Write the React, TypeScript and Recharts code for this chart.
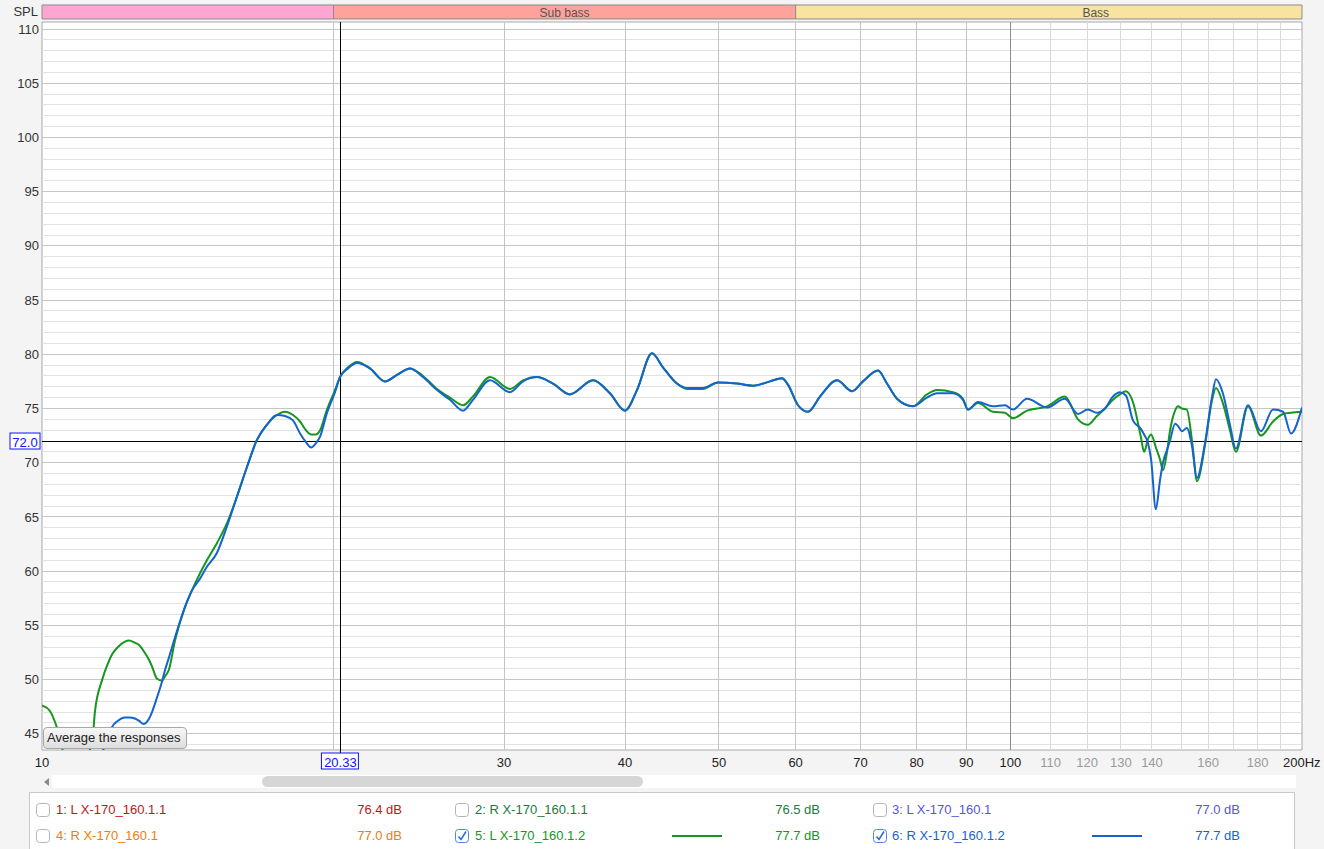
import React from "react"
import { LineChart, Line, XAxis, YAxis, ReferenceLine, ReferenceArea } from "recharts"

const FONT = '"Liberation Sans", Arial, Helvetica, sans-serif'

// frequency points (Hz)
const freqs = [
  10.0, 10.19, 10.36, 10.56, 10.95, 11.26, 11.34, 11.53, 11.7, 11.81,
  11.98, 12.18, 12.3, 12.47, 12.59, 12.74, 12.9, 12.99, 13.14, 13.3,
  13.4, 13.52, 13.72, 14.05, 14.28, 14.56, 14.8, 15.16, 15.52, 15.9,
  16.28, 16.67, 17.07, 17.48, 17.82, 18.16, 18.47, 18.73, 18.96, 19.18,
  19.37, 19.69, 20.07, 20.31, 20.7, 21.15, 21.81, 22.6, 23.26, 23.99,
  24.74, 25.58, 26.38, 27.21, 27.86, 29.01, 30.42, 31.38, 32.44, 33.7,
  35.09, 37.06, 38.59, 39.99, 41.15, 42.64, 43.77, 45.25, 46.34, 48.14,
  49.89, 52.19, 54.22, 56.45, 58.09, 58.92, 60.34, 61.79, 63.58, 66.2,
  68.6, 70.42, 72.98, 74.56, 76.35, 79.31, 81.99, 83.97, 87.22, 89.32,
  90.39, 92.56, 95.92, 98.7, 100.6, 104.0, 109.1, 113.8, 117.4, 120.2,
  122.8, 125.2, 127.6, 129.7, 131.6, 133.8, 136.4, 137.4, 138.7, 139.7,
  141.3, 142.7, 143.7, 145.1, 146.1, 147.9, 148.9, 150.3, 152.1, 154.0,
  155.8, 158.8, 161.5, 163.0, 165.7, 168.5, 170.9, 175.9, 181.4, 186.7,
  191.2, 194.8, 200.0,
]

// 5: L X-170_160.1.2 (dB SPL)
const leftDb = [
  47.6, 47.1, 45.6, 43.0, 42.5, 44.0, 47.0, 49.9, 51.5, 52.3,
  53.0, 53.5, 53.6, 53.4, 53.2, 52.6, 51.8, 51.2, 50.1, 49.9,
  50.3, 50.9, 53.6, 56.7, 58.2, 59.8, 61.0, 62.6, 64.4, 66.9,
  69.6, 72.1, 73.5, 74.4, 74.7, 74.4, 73.8, 73.0, 72.6, 72.6,
  73.0, 74.9, 76.7, 77.9, 78.8, 79.3, 78.7, 77.5, 78.1, 78.7,
  78.0, 76.8, 76.0, 75.3, 76.1, 77.9, 76.8, 77.6, 77.9, 77.3,
  76.3, 77.6, 76.4, 74.8, 76.7, 80.1, 78.8, 77.3, 76.8, 76.8,
  77.4, 77.3, 77.1, 77.5, 77.8, 77.2, 75.3, 74.7, 76.1, 77.6,
  76.6, 77.5, 78.5, 77.3, 75.9, 75.2, 76.3, 76.7, 76.5, 75.9,
  74.9, 75.5, 74.7, 74.6, 74.1, 74.8, 75.2, 76.1, 74.0, 73.5,
  74.3, 75.0, 75.8, 76.3, 76.6, 75.6, 72.3, 71.0, 72.2, 72.6,
  71.4, 70.3, 69.3, 71.0, 72.9, 74.8, 75.2, 75.0, 74.9, 72.0,
  68.3, 71.6, 75.8, 76.9, 75.5, 73.0, 71.0, 75.2, 72.5, 73.8,
  74.5, 74.6, 74.7,
]

// 6: R X-170_160.1.2 (dB SPL)
const rightDb = [
  40.0, 40.2, 40.5, 41.0, 41.5, 42.0, 42.5, 43.3, 44.5, 45.6,
  46.2, 46.5, 46.5, 46.4, 46.2, 45.9, 46.4, 47.0, 48.3, 49.8,
  50.9, 52.0, 53.9, 56.7, 58.2, 59.3, 60.4, 61.7, 64.1, 66.9,
  69.6, 72.1, 73.5, 74.4, 74.3, 73.9, 72.7, 71.9, 71.4, 71.8,
  72.4, 74.6, 76.5, 77.9, 78.7, 79.2, 78.7, 77.5, 78.1, 78.7,
  77.9, 76.7, 75.8, 74.8, 75.8, 77.6, 76.5, 77.5, 77.9, 77.3,
  76.3, 77.6, 76.4, 74.8, 76.7, 80.1, 78.8, 77.3, 76.9, 76.9,
  77.4, 77.3, 77.1, 77.5, 77.8, 77.2, 75.3, 74.7, 76.1, 77.6,
  76.6, 77.5, 78.5, 77.3, 75.9, 75.2, 76.0, 76.4, 76.4, 75.8,
  74.9, 75.6, 75.2, 75.3, 74.9, 75.9, 75.1, 75.9, 74.5, 74.9,
  74.6, 75.0, 76.1, 76.5, 76.2, 73.9, 73.1, 72.6, 71.8, 70.3,
  65.7, 68.4, 70.0, 71.2, 72.0, 73.6, 73.4, 72.9, 73.2, 71.5,
  68.6, 71.8, 76.1, 77.7, 76.4, 73.5, 71.3, 75.3, 72.9, 74.9,
  74.7, 72.7, 75.1,
]

const yTicks = [45, 50, 55, 60, 65, 70, 75, 80, 85, 90, 95, 100, 105, 110]
const xTicks = [10, 30, 40, 50, 60, 70, 80, 90, 100, 110, 120, 130, 140, 160, 180, 200]
const gridFreqs = [20, 30, 40, 50, 60, 70, 80, 90, 100, 110, 120, 130, 140, 150, 160, 170, 180, 190]

const bandNames = ["", "Sub bass", "Bass"]
const bandFrom = [5, 20, 60]
const bandTo = [20, 60, 250]
const bandColors = ["#ffa5d2", "#ffa29c", "#f8e3a0"]

const legendNames = [
  "1: L X-170_160.1.1", "2: R X-170_160.1.1", "3: L X-170_160.1",
  "4: R X-170_160.1", "5: L X-170_160.1.2", "6: R X-170_160.1.2",
]
const legendLevels = ["76.4 dB", "76.5 dB", "77.0 dB", "77.0 dB", "77.7 dB", "77.7 dB"]
const legendColors = ["#c0141a", "#1d7a3c", "#5656d8", "#f07c0c", "#16961e", "#1464cc"]
const legendChecked = [false, false, false, false, true, true]

const F_MIN = 10
const F_MAX = 200
const Y_MIN = 43.5
const Y_MAX = 110.65
// band strip sits just above the plot frame
const BAND_LO = 110.93
const BAND_HI = 112.22
const CURSOR_F = 20.33
const CURSOR_DB = 72.0

const rows = freqs.map((f, i) => ({ f, left: leftDb[i], right: rightDb[i] }))
const minorDb = Array.from({ length: 67 }, (_, i) => 44 + i)

function XTick(props: any) {
  const { x, payload } = props
  const v = payload.value
  if (v === 200) {
    return (
      <text x={x - 19} y={762} fontSize={13} fontFamily={FONT} fill="#222" dominantBaseline="central">
        200Hz
      </text>
    )
  }
  const gray = v > 100
  return (
    <text x={x} y={762} fontSize={13} fontFamily={FONT} fill={gray ? "#9a9a9a" : "#222"} textAnchor="middle" dominantBaseline="central">
      {v}
    </text>
  )
}

function DbCursorLabel(props: any) {
  const { x, y } = props.viewBox
  return (
    <g>
      <rect x={x - 32} y={y - 8} width={30} height={16} fill="#fff" stroke="#1010ff" />
      <text x={x - 17} y={y + 1} fontSize={13} fontFamily={FONT} fill="#1010ff" textAnchor="middle" dominantBaseline="central">
        {CURSOR_DB.toFixed(1)}
      </text>
    </g>
  )
}

function FreqCursorLabel(props: any) {
  const { x, y, height } = props.viewBox
  const bottom = y + height
  return (
    <g>
      <line x1={x} x2={x} y1={bottom} y2={bottom + 3} stroke="#000" />
      <rect x={x - 19} y={bottom + 3} width={37} height={16} fill="#fff" stroke="#1010ff" />
      <text x={x} y={bottom + 12} fontSize={13} fontFamily={FONT} fill="#1010ff" textAnchor="middle" dominantBaseline="central">
        {CURSOR_F.toFixed(2)}
      </text>
    </g>
  )
}

// band name centred on the band's full (log) span, even when the band runs past the axis
function BandLabel(props: any) {
  const { viewBox, name, from, to } = props
  if (!name || !viewBox) return null
  const a = Math.max(from, F_MIN)
  const b = Math.min(to, F_MAX)
  const mid = Math.sqrt(from * to)
  const cx = viewBox.x + (viewBox.width * Math.log(mid / a)) / Math.log(b / a)
  return (
    <text x={cx} y={viewBox.y + viewBox.height / 2 + 1} fontSize={12} fontFamily={FONT} fill="#555" textAnchor="middle" dominantBaseline="central">
      {name}
    </text>
  )
}

function CheckBox({ checked }: { checked: boolean }) {
  return (
    <svg width={14} height={14} style={{ position: "absolute", left: 0, top: 0 }}>
      <rect x={0.5} y={0.5} width={13} height={13} rx={3} fill="#fff" stroke={checked ? "#4a86e0" : "#b4b4b4"} />
      {checked && <path d="M3.5 7.5 L6 10.5 L11 2.5" fill="none" stroke="#2a6fd8" strokeWidth={1.6} />}
    </svg>
  )
}

function Legend() {
  const colName = [56, 475, 892]
  const colBox = [36, 455, 873]
  const colLevel = [402, 820, 1240]
  const colSample = [0, 672, 1092]
  const rowY = [810, 836]
  return (
    <>
      <div
        style={{
          position: "absolute",
          left: 29,
          top: 792,
          width: 1264,
          height: 70,
          background: "#fff",
          border: "1px solid #c8c8c8",
        }}
      />
      {legendNames.map((name, i) => {
        const r = Math.floor(i / 3)
        const c = i % 3
        const y = rowY[r]
        const color = legendColors[i]
        return (
          <React.Fragment key={name}>
            <div style={{ position: "absolute", left: colBox[c], top: y - 7, width: 14, height: 14 }}>
              <CheckBox checked={legendChecked[i]} />
            </div>
            <div style={{ position: "absolute", left: colName[c], top: y - 8, fontSize: 13, lineHeight: "16px", color, whiteSpace: "nowrap" }}>
              {name}
            </div>
            {legendChecked[i] && c > 0 && (
              <div style={{ position: "absolute", left: colSample[c], top: y - 1, width: 50, height: 2, background: color }} />
            )}
            <div style={{ position: "absolute", left: colLevel[c] - 80, width: 80, top: y - 8, fontSize: 13, lineHeight: "16px", color, textAlign: "right" }}>
              {legendLevels[i]}
            </div>
          </React.Fragment>
        )
      })}
    </>
  )
}

export default function App() {
  return (
    <div
      style={{
        position: "absolute",
        left: 0,
        top: 0,
        width: 1324,
        height: 849,
        overflow: "hidden",
        background: "#f4f4f4",
        fontFamily: FONT,
      }}
    >
      <div style={{ position: "absolute", left: 0, top: 5, width: 38, textAlign: "right", fontSize: 13, lineHeight: "14px", color: "#333" }}>
        SPL
      </div>

      <div style={{ position: "absolute", left: 0, top: 0 }}>
        <LineChart width={1324} height={780} data={rows} margin={{ top: 22, right: 22, left: 0, bottom: 0 }}>
          <XAxis
            dataKey="f"
            type="number"
            scale="log"
            domain={[F_MIN, F_MAX]}
            allowDataOverflow
            ticks={xTicks}
            interval={0}
            tick={<XTick />}
            tickLine={false}
            axisLine={false}
            height={30}
          />
          <YAxis
            type="number"
            domain={[Y_MIN, Y_MAX]}
            allowDataOverflow
            ticks={yTicks}
            interval={0}
            width={42}
            tickLine={false}
            axisLine={false}
            tickSize={0}
            tickMargin={3}
            tick={{ fontSize: 13, fill: "#333", fontFamily: FONT }}
          />
          {bandNames.map((name, i) => (
            <ReferenceArea
              key={"band" + i}
              x1={Math.max(bandFrom[i], F_MIN)}
              x2={Math.min(bandTo[i], F_MAX)}
              y1={BAND_LO}
              y2={BAND_HI}
              fill={bandColors[i]}
              fillOpacity={1}
              stroke="#8c8c8c"
              ifOverflow="visible"
              label={<BandLabel name={name} from={bandFrom[i]} to={bandTo[i]} />}
            />
          ))}
          <ReferenceArea x1={F_MIN} x2={F_MAX} y1={Y_MIN} y2={Y_MAX} fill="#fff" fillOpacity={1} stroke="#a8a8a8" ifOverflow="visible" />
          {minorDb.map((v) => (
            <ReferenceLine key={"h" + v} y={v} stroke={v % 5 === 0 ? "#c6c6c6" : "#e2e2e2"} shapeRendering="crispEdges" />
          ))}
          {gridFreqs.map((v) => (
            <ReferenceLine
              key={"v" + v}
              x={v}
              stroke={v === 100 ? "#8c8c8c" : v > 100 ? "#dadada" : "#c4c4c4"}
              shapeRendering="crispEdges"
            />
          ))}
          <ReferenceLine y={CURSOR_DB} stroke="#000" shapeRendering="crispEdges" label={<DbCursorLabel />} />
          <ReferenceLine x={CURSOR_F} stroke="#000" shapeRendering="crispEdges" label={<FreqCursorLabel />} />
          <Line dataKey="left" type="monotone" stroke="#16961e" strokeWidth={2} dot={false} isAnimationActive={false} />
          <Line dataKey="right" type="monotone" stroke="#1464cc" strokeWidth={2} dot={false} isAnimationActive={false} />
        </LineChart>
      </div>

      <div
        style={{
          position: "absolute",
          left: 43,
          top: 727,
          width: 139,
          height: 20,
          border: "1px solid #a8a8a8",
          borderRadius: 4,
          background: "linear-gradient(#f7f7f7, #dedede)",
          fontSize: 13,
          lineHeight: "20px",
          paddingLeft: 3,
          color: "#222",
          whiteSpace: "nowrap",
        }}
      >
        Average the responses
      </div>

      {/* scrollbar */}
      <div style={{ position: "absolute", left: 52, top: 775, width: 1244, height: 13, background: "#fff" }} />
      <div
        style={{
          position: "absolute",
          left: 44,
          top: 778,
          width: 0,
          height: 0,
          borderTop: "4px solid transparent",
          borderBottom: "4px solid transparent",
          borderRight: "5px solid #8a8a8a",
        }}
      />
      <div style={{ position: "absolute", left: 262, top: 776, width: 381, height: 11, borderRadius: 6, background: "#d6d6d6" }} />

      <Legend />
    </div>
  )
}
